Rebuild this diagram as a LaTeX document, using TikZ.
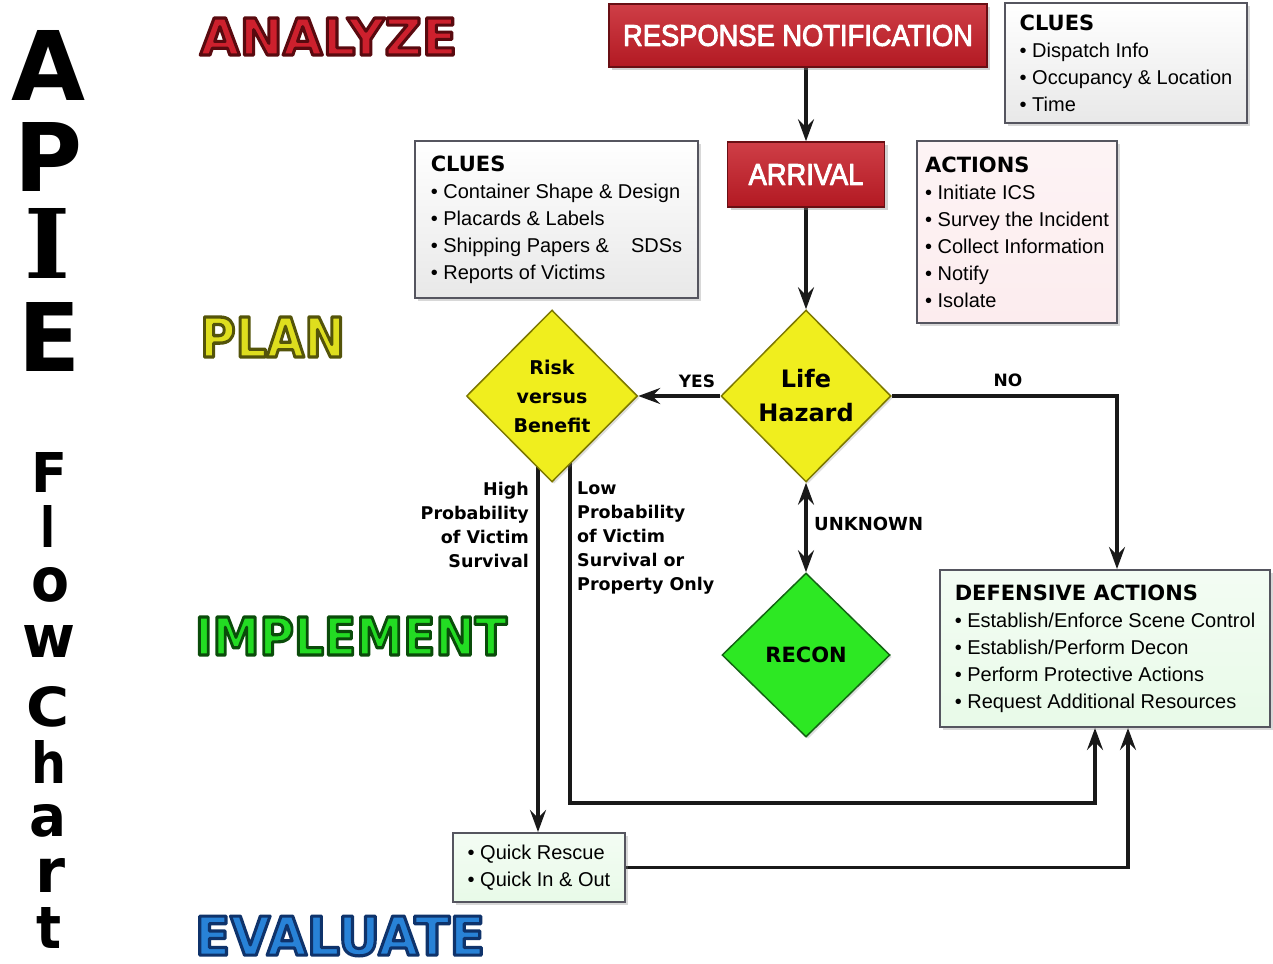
\documentclass[tikz,border=0pt]{standalone}
\usepackage{fontspec}
\usepackage{graphicx}
\setmainfont{Liberation Sans}
\newfontfamily\condfont{Liberation Sans}[FakeStretch=0.91]
\newfontfamily\heavyfont{DejaVu Sans}
\newfontfamily\serifheavy{DejaVu Serif}
\usetikzlibrary{arrows.meta,shapes.geometric,shadows}
\pgfdeclarelayer{bg}
\pgfsetlayers{bg,main}
\definecolor{boxred}{RGB}{198,28,38}
\definecolor{boxredd}{RGB}{105,15,20}
\definecolor{dyellow}{RGB}{240,238,30}
\definecolor{dyellowd}{RGB}{125,120,0}
\definecolor{dgreen}{RGB}{45,232,35}
\definecolor{dgreend}{RGB}{20,100,20}
\definecolor{anfill}{RGB}{205,32,45}
\definecolor{plfill}{RGB}{222,222,30}
\definecolor{imfill}{RGB}{35,220,35}
\definecolor{evfill}{RGB}{40,130,215}
\definecolor{boxedge}{RGB}{85,85,95}
\definecolor{pinkfill}{RGB}{252,236,238}
\definecolor{greenfill}{RGB}{232,250,232}
\newcommand\hd[1]{{\heavyfont\bfseries\fontsize{21}{27}\selectfont #1}}
% slightly emboldened white text for the red boxes
\newcommand\whitebold[1]{\special{pdf:literal direct 2 Tr 0.9 w 1 j 1 1 1 RG}#1\special{pdf:literal direct 0 Tr}}
% outlined word: name, cx, cy, w, h, fill colour, stroke rgb, text
\newcommand\wordart[8]{%
  \node[text=#6, inner sep=0pt] (#1) at (#2,#3)
    {\resizebox{#4pt}{#5pt}{\heavyfont\bfseries\fontsize{50}{50}\selectfont
      \special{pdf:literal direct 2 Tr 3 w 1 j #7 RG}#8\special{pdf:literal direct 0 Tr}}};
}
% plain black letter: name, cx, cy, w, h, text
\newcommand\bigletter[6]{%
  \node[text=black, inner sep=0pt] (#1) at (#2,#3)
    {\resizebox{#4pt}{#5pt}{\heavyfont\bfseries #6}};
}
\begin{document}
\begin{tikzpicture}[x=1pt,y=-1pt,
  redbox/.style={rectangle, top color=boxred!85!white, bottom color=boxred!90!black, draw=boxredd, line width=1.5pt, text=white,
    font=\condfont\fontsize{30}{32}\selectfont, inner sep=0pt,
    drop shadow={shadow xshift=3pt,shadow yshift=-3pt,opacity=0.35}},
  infobox/.style={rectangle, draw=boxedge, line width=2pt, top color=white, bottom color=gray!18,
    align=left, font=\fontsize{20}{27}\selectfont, inner sep=0pt,
    drop shadow={shadow xshift=3pt,shadow yshift=-3pt,opacity=0.3}},
  pinkbox/.style={infobox, top color=pinkfill!60, bottom color=pinkfill},
  greenbox/.style={infobox, top color=greenfill!50, bottom color=greenfill},
  diam/.style={diamond, aspect=1, inner sep=0pt, line width=1.5pt, align=center,
    drop shadow={shadow xshift=2pt,shadow yshift=-2pt,opacity=0.25}},
  ydiam/.style={diam, fill=dyellow, draw=dyellowd},
  gdiam/.style={diam, fill=dgreen, draw=dgreend},
  lbl/.style={inner sep=0pt, font=\heavyfont\bfseries\fontsize{17.5}{24}\selectfont},
  tip/.tip={Stealth[length=22pt,width=16pt,inset=8pt]},
  arr/.style={line width=3.4pt, draw=black!90, -tip},
  arrtwo/.style={line width=3.4pt, draw=black!90, tip-tip}
]
\useasboundingbox (0,0) rectangle (1273,963);
\begin{pgfonlayer}{bg}
\fill[white] (0,0) rectangle (1273,963);
\end{pgfonlayer}

% APIE letters
\bigletter{lA}{48.5}{65}{74}{70}{A}
\bigletter{lP}{48.5}{157}{68}{69}{P}
\bigletter{lI}{47.5}{243}{46}{70}{\serifheavy\bfseries I}
\bigletter{lE}{50}{337}{62}{69}{E}
% Flow Chart letters
\bigletter{fF}{49.5}{472}{36}{40}{F}
\bigletter{fl}{47.5}{526}{15}{42}{l}
\bigletter{fo}{51}{585}{38}{34}{o}
\bigletter{fw}{48.5}{641}{53}{32}{w}
\bigletter{fC}{48.5}{707}{43}{40}{C}
\bigletter{fh}{49.5}{761.5}{35}{43}{h}
\bigletter{fa}{48.5}{821}{37}{32}{a}
\bigletter{fr}{50}{875}{30}{34}{r}
\bigletter{ft}{49.5}{927.5}{25}{41}{t}

% Phase words
\wordart{analyze}{328.5}{36.5}{257}{37}{anfill}{0.35 0.04 0.06}{ANALYZE}
\wordart{plan}{272.5}{337}{145}{40}{plfill}{0.33 0.33 0.04}{PLAN}
\wordart{implement}{351}{636}{312}{38}{imfill}{0.04 0.3 0.04}{IMPLEMENT}
\wordart{evaluate}{340}{936}{290}{39}{evfill}{0.06 0.2 0.42}{EVALUATE}

% Boxes
\node[redbox, minimum width=378pt, minimum height=63pt] (rn) at (798,35.5) {\whitebold{RESPONSE NOTIFICATION}};
\node[redbox, minimum width=157pt, minimum height=65pt] (arrival) at (806,174.5) {\whitebold{ARRIVAL}};
\node[infobox, minimum width=242pt, minimum height=120pt] (cluesa) at (1126,63)
  {\hd{CLUES}\\• Dispatch Info\\• Occupancy \& Location\\• Time};
\node[infobox, minimum width=283pt, minimum height=157pt] (cluesb) at (556.5,219.5)
  {\hd{CLUES}\\• Container Shape \& Design\\• Placards \& Labels\\• Shipping Papers \&\hspace{22pt}SDSs\\• Reports of Victims};
\node[pinkbox, minimum width=200pt, minimum height=182pt] (actions) at (1017,232)
  {\hd{ACTIONS}\\• Initiate ICS\\• Survey the Incident\\• Collect Information\\• Notify\\• Isolate};
\node[greenbox, minimum width=330pt, minimum height=157pt] (def) at (1105,648.5)
  {\hd{DEFENSIVE ACTIONS}\\• Establish/Enforce Scene Control\\• Establish/Perform Decon\\• Perform Protective Actions\\• Request Additional Resources};
\node[greenbox, minimum width=172pt, minimum height=69pt] (quick) at (539,867.5)
  {• Quick Rescue\\• Quick In \& Out};

% Diamonds
\node[ydiam, minimum width=171pt, minimum height=172pt, font=\heavyfont\bfseries\fontsize{19}{29}\selectfont] (risk) at (552,396) {Risk\\versus\\Benefit};
\node[ydiam, minimum width=170pt, minimum height=172pt, font=\heavyfont\bfseries\fontsize{24}{34}\selectfont] (life) at (806,396) {Life\\Hazard};
\node[gdiam, minimum width=168pt, minimum height=164pt, font=\heavyfont\bfseries\fontsize{21}{24}\selectfont] (recon) at (806,655) {RECON};

% Labels
\node[lbl, font=\heavyfont\bfseries\fontsize{17}{20}\selectfont] (yes) at (697,381) {YES};
\node[lbl, font=\heavyfont\bfseries\fontsize{17}{20}\selectfont] (no) at (1008,380) {NO};
\node[lbl, anchor=west, font=\heavyfont\bfseries\fontsize{18}{20}\selectfont] (unk) at (814,524) {UNKNOWN};
\node[lbl, align=right, anchor=east] (high) at (529,525) {High\\Probability\\of Victim\\Survival};
\node[lbl, align=left, anchor=west] (low) at (577,538) {Low\\Probability\\of Victim\\Survival or\\Property Only};

% Connectors
\coordinate (hp) at (538,0);
\coordinate (lp) at (570,0);
\coordinate (nc) at (1117,0);
\coordinate (dA) at (1095,803);
\coordinate (dB) at (1128,0);
\begin{pgfonlayer}{bg}
\draw[arr] (rn.south -| arrival.north) -- (arrival.north);
\draw[arr] (arrival.south) -- (life.north);
\draw[arr] (life.west) -- (risk.east);
\draw[arr] (life.east) -- (life.east -| nc) -- (def.north -| nc);
\draw[arrtwo] (life.south) -- (recon.north);
\draw[arr] (risk.center -| hp) -- (quick.north -| hp);
\draw[arr] (risk.center -| lp) -- (dA -| lp) -- (dA) -- (def.south -| dA);
\draw[arr] (quick.east) -- (quick.east -| dB) -- (def.south -| dB);
\end{pgfonlayer}
\end{tikzpicture}
\end{document}
